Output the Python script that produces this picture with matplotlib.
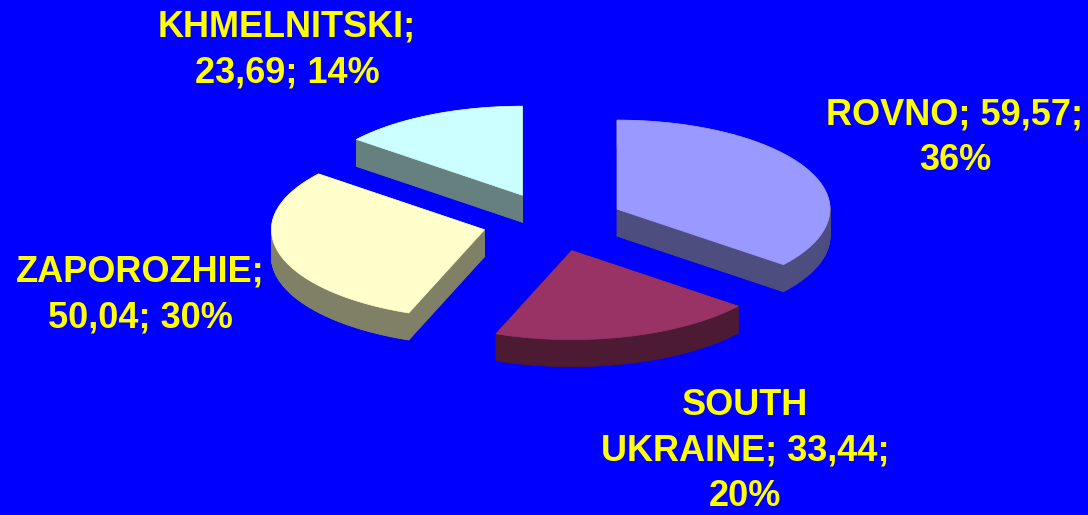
import numpy as np
import matplotlib
matplotlib.use("Agg")
import matplotlib.pyplot as plt
from matplotlib.patches import Polygon

# ---- data ----
categories = ["ROVNO", "SOUTH UKRAINE", "ZAPOROZHIE", "KHMELNITSKI"]
values = [59.57, 33.44, 50.04, 23.69]
top_colors = ["#9999FF", "#993366", "#FFFFCC", "#CCFFFF"]
side_colors = ["#4D4D80", "#4D1A33", "#808066", "#668080"]
label_templates = ["ROVNO; {v};\n{p}", "SOUTH\nUKRAINE; {v};\n{p}",
                   "ZAPOROZHIE;\n{v}; {p}", "KHMELNITSKI;\n{v}; {p}"]
label_pos = [(955, 138), (745, 451), (140, 295), (287, 50)]

# ---- geometry (pixel space) ----
W, H = 1088, 515
cx, cy = 553, 222
rx, ry = 213, 89
depth = 27
explode = 71

fig = plt.figure(figsize=(W / 100, H / 100), dpi=100, facecolor="#0000FF")
ax = fig.add_axes([0, 0, 1, 1])
ax.set_facecolor("#0000FF")
ax.set_xlim(0, W)
ax.set_ylim(H, 0)
ax.axis("off")

total = sum(values)
fracs = [v / total for v in values]
start = 90.0
slices = []
for i, f in enumerate(fracs):
    a1 = start
    a2 = start - 360 * f
    start = a2
    mid = np.deg2rad((a1 + a2) / 2)
    ox = cx + explode * np.cos(mid)
    oy = cy - explode * np.sin(mid) * ry / rx
    th = np.deg2rad(np.linspace(a1, a2, 200))
    rim = np.column_stack([ox + rx * np.cos(th), oy - ry * np.sin(th)])
    top = np.vstack([[ox, oy], rim])
    slices.append((oy, i, top))

# draw back to front
for oy, i, top in sorted(slices, key=lambda s: s[0]):
    shifted = top + np.array([0, depth])
    n = len(top)
    for k in range(n):
        p, q = top[k], top[(k + 1) % n]
        quad = np.array([p, q, q + [0, depth], p + [0, depth]])
        ax.add_patch(Polygon(quad, closed=True, facecolor=side_colors[i],
                             edgecolor=side_colors[i], lw=0.6))
    ax.add_patch(Polygon(shifted, closed=True, facecolor=side_colors[i],
                         edgecolor="none"))
    ax.add_patch(Polygon(top, closed=True, facecolor=top_colors[i],
                         edgecolor=top_colors[i], lw=0.5))

for i, (v, f) in enumerate(zip(values, fracs)):
    vs = f"{v:.2f}".replace(".", ",")
    ps = f"{round(f * 100):d}%"
    txt = label_templates[i].format(v=vs, p=ps)
    ax.text(label_pos[i][0], label_pos[i][1], txt, ha="center", va="center",
            multialignment="center", color="#FFFF00", fontsize=26,
            fontweight="bold", family=["Liberation Sans", "DejaVu Sans"],
            linespacing=1.4)

fig.savefig("out.png", dpi=100, facecolor="#0000FF")
